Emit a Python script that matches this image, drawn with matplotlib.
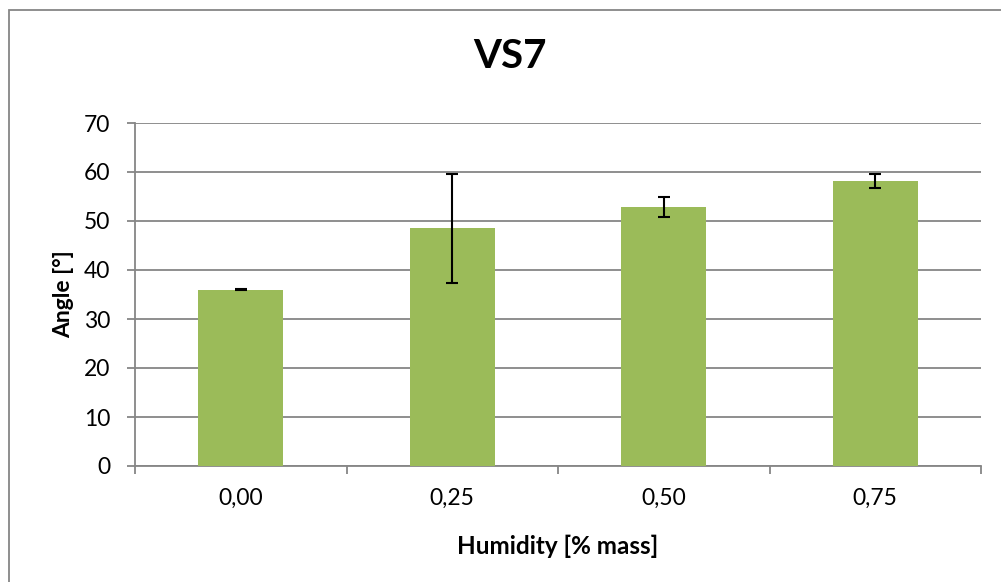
import numpy as np
import matplotlib
matplotlib.use('Agg')
import matplotlib.pyplot as plt
from matplotlib.patches import Rectangle

plt.rcParams['font.family'] = ['Lato', 'DejaVu Sans']

humidity = ['0,00', '0,25', '0,50', '0,75']
angle = [36.0, 48.5, 52.9, 58.2]
angle_err = [0.1, 11.1, 2.05, 1.45]

fig = plt.figure(figsize=(10.01, 5.82), dpi=100)
ax = fig.add_axes([135 / 1001, 116 / 582, 846 / 1001, 343 / 582])

# outer chart frame (only left/top edges visible in the picture)
fig.patches.append(Rectangle((9 / 1001, -0.1), 1.2, (582 - 10) / 582 + 0.1,
                             transform=fig.transFigure, fill=False,
                             edgecolor='#868686', linewidth=1.3))

x = np.arange(len(humidity))
ax.bar(x, angle, width=0.4, color='#9BBB59', zorder=3)
ax.errorbar(x, angle, yerr=angle_err, fmt='none', ecolor='black',
            elinewidth=1.5, capsize=4.3, capthick=1.5, zorder=4)

ax.set_xlim(-0.5, len(humidity) - 0.5)
ax.set_ylim(0, 70)
ax.set_yticks(np.arange(0, 71, 10))
ax.yaxis.grid(True, color='#868686', linewidth=1.3, zorder=0)

ax.set_xticks(np.arange(-0.5, len(humidity)))
ax.set_xticklabels([])
ax.set_xticks(x, minor=True)
ax.set_xticklabels(humidity, minor=True)
ax.tick_params(axis='x', which='major', length=6, color='#868686', width=1.3)
ax.tick_params(axis='x', which='minor', length=0, pad=16, labelsize=16.5)
ax.tick_params(axis='y', length=6, color='#868686', width=1.3, pad=12, labelsize=16.5)

for s in ['top', 'right']:
    ax.spines[s].set_visible(False)
for s in ['left', 'bottom']:
    ax.spines[s].set_color('#868686')
    ax.spines[s].set_linewidth(1.3)

ax.set_ylabel('Angle [°]', fontsize=16.5, fontweight='bold', labelpad=7)
ax.set_xlabel('Humidity [% mass]', fontsize=17.5, fontweight='bold', labelpad=18)
fig.text(510 / 1001, 1 - 57 / 582, 'VS7', ha='center', va='center',
         fontsize=29, fontweight='bold')

fig.savefig('out.png', dpi=100)
